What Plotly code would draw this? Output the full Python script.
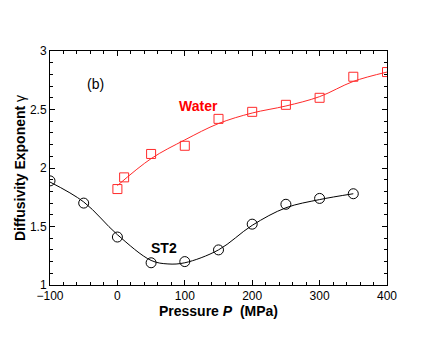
import plotly.graph_objects as go

st2_p = [-100, -50, 0, 50, 100, 150, 200, 250, 300, 350]
st2_g = [1.89, 1.70, 1.41, 1.19, 1.20, 1.30, 1.52, 1.69, 1.74, 1.78]
water_p = [0, 10, 50, 100, 150, 200, 250, 300, 350, 400]
water_g = [1.82, 1.92, 2.12, 2.19, 2.42, 2.48, 2.54, 2.60, 2.78, 2.82]

# smooth fit curves
st2_fit_p = [-100, -50, 0, 50, 75, 100, 150, 200, 250, 300, 350]
st2_fit_g = [1.88, 1.71, 1.43, 1.21, 1.18, 1.19, 1.30, 1.51, 1.66, 1.73, 1.78]
water_fit_p = [0, 50, 100, 150, 200, 250, 300, 350, 400]
water_fit_g = [1.85, 2.08, 2.24, 2.38, 2.47, 2.53, 2.61, 2.74, 2.82]

RED = "#ff2a2a"
font = "Liberation Sans, Arial, sans-serif"

fig = go.Figure()
fig.add_trace(go.Scatter(x=st2_fit_p, y=st2_fit_g, mode="lines", line=dict(color="black", width=1, shape="spline", smoothing=1.0), hoverinfo="skip"))
fig.add_trace(go.Scatter(x=water_fit_p, y=water_fit_g, mode="lines", line=dict(color=RED, width=1, shape="spline", smoothing=1.0), hoverinfo="skip"))
fig.add_trace(go.Scatter(x=st2_p, y=st2_g, mode="markers", marker=dict(symbol="circle-open", size=10, color="black", line=dict(width=1))))
fig.add_trace(go.Scatter(x=water_p, y=water_g, mode="markers", marker=dict(symbol="square-open", size=9, color=RED, line=dict(width=1))))

fig.add_annotation(x=-32, y=2.72, text="(b)", showarrow=False, font=dict(family=font, size=14, color="black"))
fig.add_annotation(x=121, y=2.53, text="<b>Water</b>", showarrow=False, font=dict(family=font, size=14, color="#ff0000"))
fig.add_annotation(x=69, y=1.32, text="<b>ST2</b>", showarrow=False, font=dict(family=font, size=14, color="black"))

axcommon = dict(showgrid=False, zeroline=False, showline=True, linecolor="black", linewidth=1,
                mirror="allticks", ticks="inside", ticklen=5, tickcolor="black", automargin=False,
                tickfont=dict(family=font, size=12, color="black"),
                minor=dict(ticks="inside", ticklen=3, tickcolor="black"))

fig.update_xaxes(range=[-100, 400], dtick=100, minor_dtick=20,
                 title=dict(text="<b>Pressure <i>P</i>  (MPa)</b>", font=dict(family=font, size=14, color="black"), standoff=0),
                 **axcommon)
fig.update_yaxes(range=[1, 3], dtick=0.5, minor_dtick=0.1,
                 title=dict(text="<b>Diffusivity Exponent</b> γ", font=dict(family=font, size=14, color="black"), standoff=1),
                 **axcommon)

fig.update_layout(width=436, height=337, margin=dict(l=42, r=57, t=43, b=60),
                  paper_bgcolor="white", plot_bgcolor="white", showlegend=False)

fig.write_html("out.html")
